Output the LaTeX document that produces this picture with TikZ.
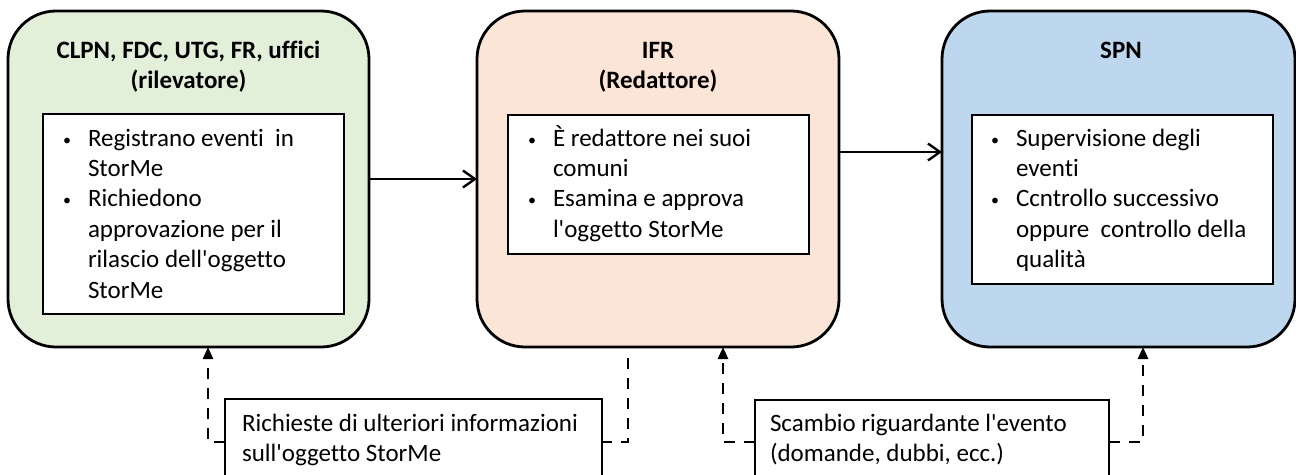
\documentclass[tikz,border=0pt]{standalone}
\usepackage{fontspec}
\setmainfont{Carlito}[Ligatures=CommonOff]
\usetikzlibrary{arrows.meta}
\definecolor{gfill}{HTML}{E2F0D9}
\definecolor{ofill}{HTML}{FBE5D6}
\definecolor{bfill}{HTML}{BDD7EE}
\newcommand\ap{\textquotesingle}
\newcommand\bul{\makebox[25pt][l]{\raisebox{1pt}{\fontsize{16}{16}\selectfont\textbullet}}}
\begin{document}
\begin{tikzpicture}[x=1pt,y=-1pt,
  txt/.style={font=\fontsize{25}{30.4}\selectfont, inner sep=0pt, outer sep=0pt},
  title/.style={txt, font=\fontsize{25}{30.4}\selectfont\bfseries, anchor=base},
  list/.style={txt, anchor=base west},
  mainbox/.style={draw=black, line width=2.8pt, rounded corners=48pt, anchor=north west, inner sep=0pt, outer sep=0pt},
  inbox/.style={draw=black, line width=1.7pt, fill=white, anchor=north west, inner sep=0pt, outer sep=0pt},
  notebox/.style={draw=black, line width=1.7pt, fill=white, anchor=north west, inner sep=0pt, outer sep=0pt},
  sarr/.style={line width=2.4pt, -{Straight Barb[length=12pt,width=17pt,line width=2.4pt]}},
  dsh/.style={line width=2.6pt, dash pattern=on 11pt off 9pt},
  darr/.style={dsh, -{Triangle[length=12pt,width=10pt]}}
]
\useasboundingbox (0,0) rectangle (1296,474);

% main boxes
\node[mainbox, fill=gfill, minimum width=361pt, minimum height=336pt] (G) at (8,11) {};
\node[mainbox, fill=ofill, minimum width=362pt, minimum height=336pt] (O) at (477,11) {};
\node[mainbox, fill=bfill, minimum width=353pt, minimum height=336pt] (B) at (942,11) {};

% titles
\node[title] (gt1) at (188.5,58) {CLPN, FDC, UTG, FR, uffici};
\node[title] (gt2) at (188.5,88) {(rilevatore)};
\node[title] (ot1) at (658,58) {IFR};
\node[title] (ot2) at (658,88) {(Redattore)};
\node[title] (bt1) at (1121,58) {SPN};

% inner boxes
\node[inbox, minimum width=301pt, minimum height=200pt] (gi) at (43,114) {};
\node[inbox, minimum width=301pt, minimum height=139pt] (oi) at (508,115) {};
\node[inbox, minimum width=301pt, minimum height=169pt] (bi) at (972,115) {};

\node[list] (gl) at (63,146) {\begin{tabular}[t]{@{}l@{}l@{}}
\bul & Registrano eventi\ \ in\\
 & StorMe\\
\bul & Richiedono\\
 & approvazione per il\\
 & rilascio dell\ap oggetto\\
 & StorMe
\end{tabular}};
\node[list] (ol) at (528,146) {\begin{tabular}[t]{@{}l@{}l@{}}
\bul & È redattore nei suoi\\
 & comuni\\
\bul & Esamina e approva\\
 & l\ap oggetto StorMe
\end{tabular}};
\node[list] (bl) at (991,146) {\begin{tabular}[t]{@{}l@{}l@{}}
\bul & Supervisione degli\\
 & eventi\\
\bul & Ccntrollo successivo\\
 & oppure\ \ controllo della\\
 & qualità
\end{tabular}};

% note boxes
\node[notebox, minimum width=377pt, minimum height=86pt] (r1) at (225,399) {};
\node[notebox, minimum width=354pt, minimum height=84pt] (r2) at (755,400) {};
\node[list] (r1t) at (242,431) {\begin{tabular}[t]{@{}l@{}}
Richieste di ulteriori informazioni\\
sull\ap oggetto StorMe
\end{tabular}};
\node[list] (r2t) at (770,431) {\begin{tabular}[t]{@{}l@{}}
Scambio riguardante l\ap evento\\
(domande, dubbi, ecc.)
\end{tabular}};

% solid arrows
\draw[sarr] (G.east) -- (O.west);
\draw[sarr] ([yshift=27pt]O.east) -- ([yshift=27pt]B.west);

% dashed connectors
\draw[dsh, shorten <=11pt] ([xshift=-30pt]O.south) |- (r1.east);
\draw[darr] (r1.west) -| ([xshift=19.5pt]G.south);
\draw[darr] (r2.west) -| ([xshift=65pt]O.south);
\draw[darr] (r2.east) -| ([xshift=24.5pt]B.south);
\end{tikzpicture}
\end{document}
